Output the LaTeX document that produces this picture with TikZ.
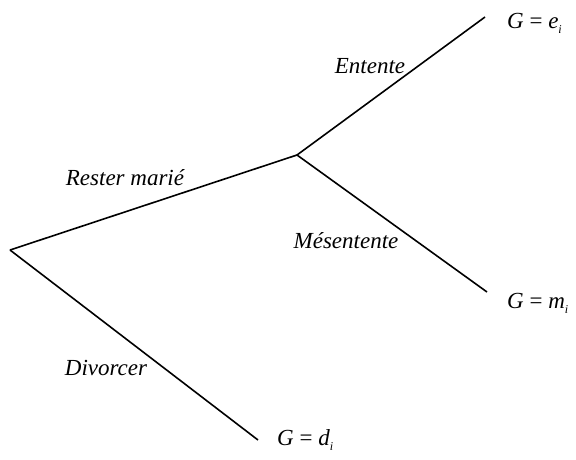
\documentclass[tikz,border=0pt]{standalone}
\usepackage{fontspec}
\setmainfont{Liberation Serif}
\newcommand{\subi}{\raisebox{-5pt}{\fontsize{12}{12}\selectfont\itshape i}}
\newcommand{\eqsign}{\hspace{0.25em}=\hspace{0.25em}}
\begin{document}
\begin{tikzpicture}[x=1pt,y=-1pt,
  branch/.style={line width=1.6pt},
  lab/.style={font=\fontsize{23}{26}\selectfont\itshape, inner sep=0pt, anchor=base},
  outc/.style={font=\fontsize{23}{26}\selectfont, inner sep=0pt, anchor=base west}]
\useasboundingbox (0,0) rectangle (576,459);
\coordinate (root) at (10,250);
\coordinate (mid) at (297,155);
\coordinate (ee) at (485,17);
\coordinate (me) at (487,292);
\coordinate (de) at (258,440);
\draw[branch] (root) -- (mid);
\draw[branch] (mid) -- (ee);
\draw[branch] (mid) -- (me);
\draw[branch] (root) -- (de);
\node[lab] (l1) at (370,73) {Entente};
\node[lab] (l2) at (125,185) {Rester marié};
\node[lab] (l3) at (346,248) {Mésentente};
\node[lab] (l4) at (106,375) {Divorcer};
\node[outc] (o1) at (507,28) {\textit{G}\eqsign\textit{e}\subi};
\node[outc] (o2) at (507,308) {\textit{G}\eqsign\textit{m}\subi};
\node[outc] (o3) at (277,445) {\textit{G}\eqsign\textit{d}\subi};
\end{tikzpicture}
\end{document}
